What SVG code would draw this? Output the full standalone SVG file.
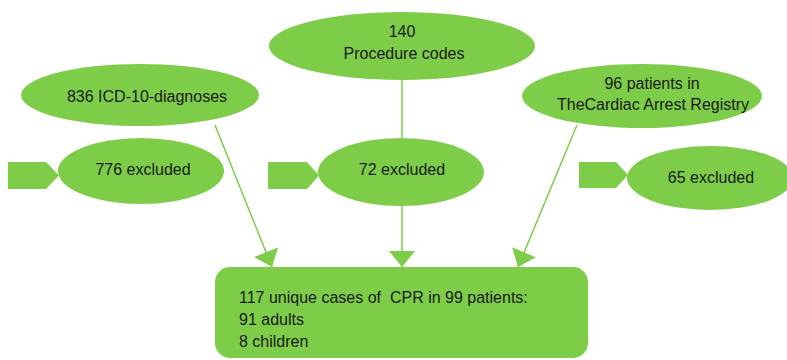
<svg xmlns="http://www.w3.org/2000/svg" width="787" height="360" viewBox="0 0 787 360">
<defs>
<style>
.n{fill:#7dcd48;}
.t{font-family:"Liberation Sans",Arial,sans-serif;font-size:16px;fill:#1a1a1a;white-space:pre;}
.c{text-anchor:middle;}
.l{stroke:#7dcd48;stroke-width:1.5;fill:none;}
</style>
<marker id="ah" viewBox="0 0 16 26" refX="16" refY="13" markerWidth="16" markerHeight="26" markerUnits="userSpaceOnUse" orient="auto">
<path d="M0,0 L16,13 L0,26 Z" fill="#7dcd48"/>
</marker>
</defs>
<rect width="787" height="360" fill="#ffffff"/>
<g id="connectors">
<line class="l" x1="402" y1="80" x2="402" y2="138"/>
<line class="l" x1="402" y1="205" x2="402" y2="267" marker-end="url(#ah)"/>
<line class="l" x1="215" y1="125" x2="272" y2="267" marker-end="url(#ah)"/>
<line class="l" x1="577" y1="125" x2="518" y2="267" marker-end="url(#ah)"/>
</g>
<g id="procedure">
<ellipse class="n" cx="402" cy="46" rx="133" ry="34"/>
<text class="t c" x="402" y="37">140</text>
<text class="t c" x="404" y="59">Procedure codes</text>
</g>
<g id="icd">
<ellipse class="n" cx="140" cy="95" rx="119" ry="31"/>
<text class="t c" x="147" y="102">836 ICD-10-diagnoses</text>
</g>
<g id="registry">
<ellipse class="n" cx="642" cy="96" rx="120" ry="32"/>
<text class="t c" x="652" y="89">96 patients in</text>
<text class="t c" x="653" y="110">TheCardiac Arrest Registry</text>
</g>
<g id="excl776">
<polygon class="n" points="8,162 46,162 59,175.5 46,189 8,189"/>
<ellipse class="n" cx="141" cy="171" rx="83" ry="33"/>
<text class="t c" x="143" y="175">776 excluded</text>
</g>
<g id="excl72">
<polygon class="n" points="268,162 307,162 319,175.5 307,189 268,189"/>
<ellipse class="n" cx="401" cy="172" rx="83" ry="34"/>
<text class="t c" x="402" y="175">72 excluded</text>
</g>
<g id="excl65">
<polygon class="n" points="579,162 616,162 628,175 616,188 579,188"/>
<ellipse class="n" cx="710" cy="178" rx="83" ry="32"/>
<text class="t c" x="711" y="183">65 excluded</text>
</g>
<g id="result">
<rect class="n" x="215" y="267" width="373" height="91" rx="15"/>
<text class="t" x="239" y="303" xml:space="preserve">117 unique cases of  CPR in 99 patients:</text>
<text class="t" x="239" y="325">91 adults</text>
<text class="t" x="239" y="347">8 children</text>
</g>
</svg>
